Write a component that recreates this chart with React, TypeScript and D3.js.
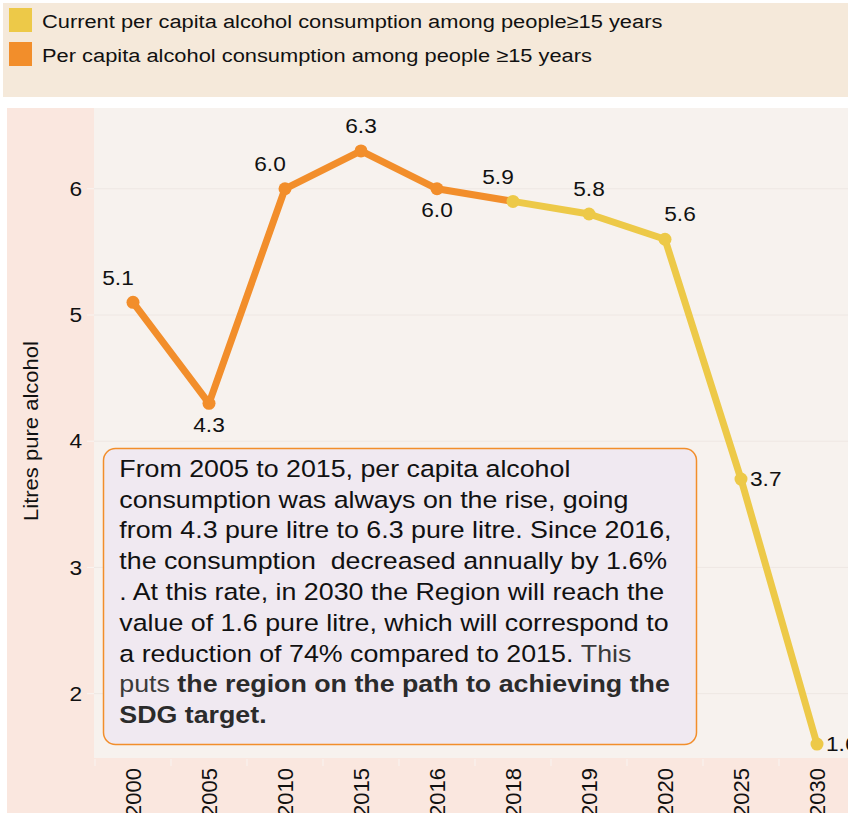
import React from 'react';
import * as d3 from 'd3';

const years = ['2000', '2005', '2010', '2015', '2016', '2018', '2019', '2020', '2025', '2030'];
const historicYears = ['2000', '2005', '2010', '2015', '2016', '2018'];
const historicValues = [5.1, 4.3, 6.0, 6.3, 6.0, 5.9];
const historicLabelPos = ['above-left', 'below', 'above-left', 'above', 'below', ''];
const currentYears = ['2018', '2019', '2020', '2025', '2030'];
const currentValues = [5.9, 5.8, 5.6, 3.7, 1.6];
const currentLabelPos = ['above-left', 'above', 'above-right', 'right', 'right'];
const yTicks = [2, 3, 4, 5, 6];
const legendLabels = [
  'Current per capita alcohol consumption among people\u226515 years',
  'Per capita alcohol consumption among people \u226515 years',
];
const yTitle = 'Litres pure alcohol';

type Seg = { t: string; bold?: boolean; gray?: boolean };
const noteLines: Seg[][] = [
  [{ t: 'From 2005 to 2015, per capita alcohol' }],
  [{ t: 'consumption was always on the rise, going' }],
  [{ t: 'from 4.3 pure litre to 6.3 pure litre. Since 2016,' }],
  [{ t: 'the consumption  decreased annually by 1.6%' }],
  [{ t: '. At this rate, in 2030 the Region will reach the' }],
  [{ t: 'value of 1.6 pure litre, which will correspond to' }],
  [{ t: 'a reduction of 74% compared to 2015. ' }, { t: 'This', gray: true }],
  [{ t: 'puts ', gray: true }, { t: 'the region on the path to achieving the', bold: true }],
  [{ t: 'SDG target.', bold: true }],
];

const ORANGE = '#F28E2B';
const YELLOW = '#EDC948';
const FONT = 'Liberation Sans, Arial, Helvetica, sans-serif';

export default function App() {
  const W = 848;
  const H = 813;
  const plotLeft = 94;
  const plotTop = 108;
  const plotBottom = 758;

  const x = d3.scaleBand<string>().domain(years).range([95, 855]).padding(0);
  const y = d3.scaleLinear().domain([1.49, 6.64]).range([plotBottom, plotTop]);
  const cx = (yr: string) => (x(yr) as number) + x.bandwidth() / 2;

  const line = d3
    .line<[string, number]>()
    .x((d) => cx(d[0]))
    .y((d) => y(d[1]));

  const hist: [string, number][] = historicYears.map((yr, i) => [yr, historicValues[i]]);
  const curr: [string, number][] = currentYears.map((yr, i) => [yr, currentValues[i]]);

  const labelFor = (yr: string, v: number, pos: string, key: string) => {
    if (!pos) return null;
    const px = cx(yr);
    const py = y(v);
    let dx = 0;
    let dy = 0;
    let anchor: 'middle' | 'start' = 'middle';
    if (pos === 'above') dy = -25;
    if (pos === 'above-left') { dy = -25; dx = -15; }
    if (pos === 'above-right') { dy = -25; dx = 15; }
    if (pos === 'below') dy = 21;
    if (pos === 'right') { dx = 9; anchor = 'start'; }
    return (
      <text
        key={key}
        transform={`translate(${px + dx}, ${py + dy}) scale(1.08,1)`}
        textAnchor={anchor}
        dominantBaseline="central"
        fontSize={21}
        fontFamily={FONT}
        fill="#111"
      >
        {v.toFixed(1)}
      </text>
    );
  };

  const TS = 1.14;
  const noteX = 119.3;
  const noteBase = 476.7;
  const noteStep = 30.8;

  return (
    <svg
      width={W}
      height={H}
      style={{ position: 'fixed', left: 0, top: 0, background: '#ffffff' }}
      fontFamily={FONT}
    >
      {/* legend panel */}
      <rect x={3} y={3} width={W} height={94} fill="#F5E9DA" />
      {legendLabels.map((lab, i) => (
        <g key={lab}>
          <rect x={9} y={8 + i * 34} width={23} height={24} fill={i === 0 ? YELLOW : ORANGE} />
          <text
            transform={`translate(42, ${28.3 + i * 34}) scale(${1.15},1)`}
            fontSize={19}
            fill="#111"
          >
            {lab}
          </text>
        </g>
      ))}

      {/* chart panel */}
      <rect x={7} y={plotTop} width={W} height={H} fill="#FAE7DF" />
      <rect x={plotLeft} y={plotTop} width={W - plotLeft} height={plotBottom - plotTop} fill="#F7F2EE" />

      {/* gridlines & y axis */}
      {yTicks.map((t) => (
        <g key={t}>
          <line x1={plotLeft} x2={W} y1={y(t)} y2={y(t)} stroke="#EEE7E3" strokeWidth={1} />
          <line x1={87} x2={plotLeft} y1={y(t)} y2={y(t)} stroke="#F9F4F1" strokeWidth={1} />
          <text
            transform={`translate(82, ${y(t)}) scale(1.08,1)`}
            textAnchor="end"
            dominantBaseline="central"
            fontSize={21}
            fill="#111"
          >
            {t}
          </text>
        </g>
      ))}
      <text
        transform={`translate(37.5, 431) rotate(-90) scale(1.13,1)`}
        textAnchor="middle"
        fontSize={19.5}
        fill="#111"
      >
        {yTitle}
      </text>

      {/* x axis */}
      {years.map((yr) => (
        <g key={yr}>
          <line
            x1={x(yr) as number}
            x2={x(yr) as number}
            y1={plotBottom + 1}
            y2={plotBottom + 8}
            stroke="#F9F4F1"
            strokeWidth={1}
          />
          <text
            transform={`translate(${cx(yr) + 8}, 768) rotate(-90)`}
            textAnchor="end"
            fontSize={22}
            fill="#111"
          >
            {yr}
          </text>
        </g>
      ))}

      {/* annotation box */}
      <rect
        x={103.5}
        y={448.5}
        width={593}
        height={296}
        rx={12}
        ry={12}
        fill="#F0E9F1"
        stroke={ORANGE}
        strokeWidth={1.5}
      />
      {noteLines.map((segs, i) => (
        <text
          key={i}
          transform={`translate(${noteX}, ${noteBase + i * noteStep}) scale(${TS},1)`}
          fontSize={23.5}
          fill="#111"
          style={{ whiteSpace: 'pre' }}
        >
          {segs.map((s, j) => (
            <tspan
              key={j}
              fontWeight={s.bold ? 'bold' : 'normal'}
              fill={s.bold ? '#2b2b2b' : s.gray ? '#3a3a3a' : '#111'}
            >
              {s.t}
            </tspan>
          ))}
        </text>
      ))}

      {/* lines */}
      <path d={line(hist) || ''} fill="none" stroke={ORANGE} strokeWidth={7} strokeLinejoin="round" />
      <path d={line(curr) || ''} fill="none" stroke={YELLOW} strokeWidth={7} strokeLinejoin="round" />
      {hist.slice(0, -1).map((d) => (
        <circle key={'h' + d[0]} cx={cx(d[0])} cy={y(d[1])} r={6.5} fill={ORANGE} />
      ))}
      {curr.map((d) => (
        <circle key={'c' + d[0]} cx={cx(d[0])} cy={y(d[1])} r={6.5} fill={YELLOW} />
      ))}

      {/* labels */}
      {hist.map((d, i) => labelFor(d[0], d[1], historicLabelPos[i], 'hl' + i))}
      {curr.map((d, i) => labelFor(d[0], d[1], currentLabelPos[i], 'cl' + i))}
    </svg>
  );
}
